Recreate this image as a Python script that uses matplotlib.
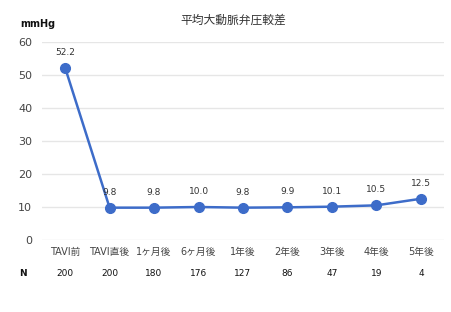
import matplotlib
matplotlib.use("Agg")
import matplotlib.pyplot as plt

plt.rcParams['font.family'] = ['DejaVu Sans', 'Noto Sans CJK JP']

categories = ["TAVI前", "TAVI直後", "1ヶ月後", "6ヶ月後", "1年後", "2年後", "3年後", "4年後", "5年後"]
values = [52.2, 9.8, 9.8, 10.0, 9.8, 9.9, 10.1, 10.5, 12.5]
n_values = [200, 200, 180, 176, 127, 86, 47, 19, 4]
yticks = [0, 10, 20, 30, 40, 50, 60]

fig = plt.figure(figsize=(4.52, 3.12), dpi=100)
ax = fig.add_axes([42/452, 1-240/312, (444-42)/452, (240-42)/312])

color = '#3d6cc9'
x = list(range(len(categories)))
ax.plot(x, values, color=color, linewidth=1.8, marker='o', markersize=7, zorder=3, clip_on=False)
for xi, v in zip(x, values):
    ax.annotate(f"{v:.1f}", (xi, v), xytext=(0, 8), textcoords='offset points',
                ha='center', va='bottom', fontsize=6.5, color='#333333')

ax.set_xlim(-0.52, 8.52)
ax.set_ylim(0, 60)
ax.set_yticks(yticks)
ax.set_yticklabels([str(t) for t in yticks], fontsize=8, color='#444444')
ax.set_xticks(x)
ax.set_xticklabels(categories, fontsize=7, color='#444444')
ax.tick_params(axis='both', length=0)
ax.tick_params(axis='y', pad=7)
ax.tick_params(axis='x', pad=5)
ax.grid(axis='y', color='#e6e6e6', linewidth=1)
ax.set_axisbelow(True)
for s in ax.spines.values():
    s.set_visible(False)

# N row
fig.text(23/452, 1-273/312, "N", fontsize=6.5, fontweight='bold', ha='center', va='center', color='#111111')
for xi, n in zip(x, n_values):
    xd = ax.transData.transform((xi, 0))[0]
    fig.text(xd/452, 1-273/312, str(n), fontsize=6.5, ha='center', va='center', color='#111111')

fig.text(233/452, 1-20/312, "平均大動脈弁圧較差", fontsize=8.5, ha='center', va='center', color='#333333')
fig.text(20/452, 1-24/312, "mmHg", fontsize=7, fontweight='bold', ha='left', va='center', color='#111111')

fig.savefig("out.png", dpi=100)
